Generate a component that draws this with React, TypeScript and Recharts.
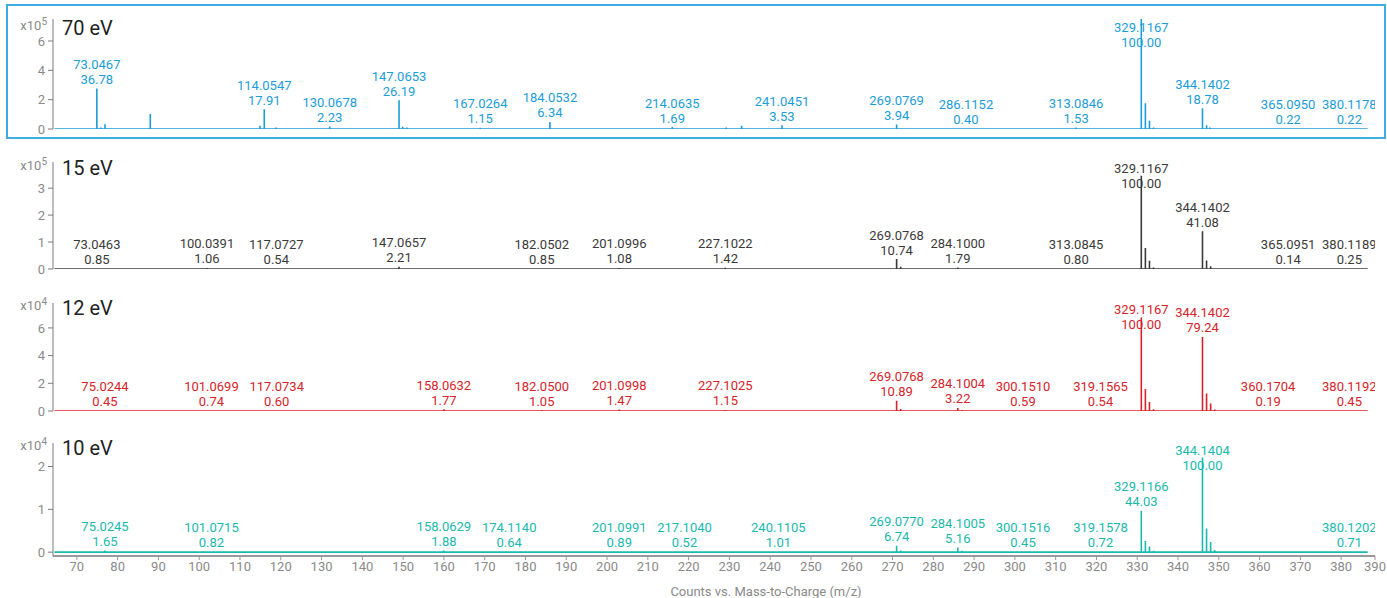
import { ComposedChart, Line, Scatter, XAxis, YAxis } from 'recharts';

// [plotted m/z, height (scaled counts), mass label, relative abundance]
type Peak = [number, number, string, string];
type Stick = [number, number];

const peaks70: Peak[] = [
  [74.9, 2.76, '73.0467', '36.78'],
  [115.95, 1.34, '114.0547', '17.91'],
  [132.0, 0.17, '130.0678', '2.23'],
  [149.0, 1.96, '147.0653', '26.19'],
  [168.9, 0.09, '167.0264', '1.15'],
  [186.0, 0.48, '184.0532', '6.34'],
  [216.0, 0.13, '214.0635', '1.69'],
  [242.9, 0.26, '241.0451', '3.53'],
  [271.0, 0.3, '269.0769', '3.94'],
  [288.0, 0.03, '286.1152', '0.40'],
  [315.0, 0.11, '313.0846', '1.53'],
  [331.0, 7.5, '329.1167', '100.00'],
  [346.0, 1.41, '344.1402', '18.78'],
  [367.0, 0.02, '365.0950', '0.22'],
  [382.0, 0.02, '380.1178', '0.22'],
];
const minor70: Stick[] = [
  [75.9, 0.1], [76.9, 0.32], [88.0, 1.02], [114.9, 0.22], [118.8, 0.1], [146.0, 0.05],
  [149.9, 0.16], [150.9, 0.1], [229.2, 0.1], [233.0, 0.22], [332.0, 1.75], [333.0, 0.57],
  [334.0, 0.1], [347.0, 0.25], [347.8, 0.1],
];

const peaks15: Peak[] = [
  [74.9, 0.03, '73.0463', '0.85'],
  [101.9, 0.04, '100.0391', '1.06'],
  [118.9, 0.02, '117.0727', '0.54'],
  [149.0, 0.08, '147.0657', '2.21'],
  [184.0, 0.03, '182.0502', '0.85'],
  [203.0, 0.04, '201.0996', '1.08'],
  [229.0, 0.05, '227.1022', '1.42'],
  [271.0, 0.37, '269.0768', '10.74'],
  [286.0, 0.06, '284.1000', '1.79'],
  [315.0, 0.03, '313.0845', '0.80'],
  [331.0, 3.46, '329.1167', '100.00'],
  [346.0, 1.4, '344.1402', '41.08'],
  [367.0, 0.01, '365.0951', '0.14'],
  [382.0, 0.01, '380.1189', '0.25'],
];
const minor15: Stick[] = [
  [159.8, 0.03], [272.0, 0.08], [332.0, 0.78], [333.0, 0.31], [334.0, 0.06], [347.0, 0.32], [348.0, 0.1],
];

const peaks12: Peak[] = [
  [76.9, 0.03, '75.0244', '0.45'],
  [103.0, 0.05, '101.0699', '0.74'],
  [119.0, 0.04, '117.0734', '0.60'],
  [160.0, 0.12, '158.0632', '1.77'],
  [184.0, 0.07, '182.0500', '1.05'],
  [203.0, 0.1, '201.0998', '1.47'],
  [229.0, 0.08, '227.1025', '1.15'],
  [271.0, 0.74, '269.0768', '10.89'],
  [286.0, 0.22, '284.1004', '3.22'],
  [302.0, 0.04, '300.1510', '0.59'],
  [321.0, 0.04, '319.1565', '0.54'],
  [331.0, 6.75, '329.1167', '100.00'],
  [346.0, 5.35, '344.1402', '79.24'],
  [362.1, 0.01, '360.1704', '0.19'],
  [382.0, 0.03, '380.1192', '0.45'],
];
const minor12: Stick[] = [
  [272.0, 0.15], [287.0, 0.08], [332.0, 1.58], [333.0, 0.65], [334.0, 0.12], [347.0, 1.27], [348.0, 0.55], [349.0, 0.1],
];

const peaks10: Peak[] = [
  [76.9, 0.04, '75.0245', '1.65'],
  [103.0, 0.02, '101.0715', '0.82'],
  [160.0, 0.04, '158.0629', '1.88'],
  [176.0, 0.01, '174.1140', '0.64'],
  [203.0, 0.02, '201.0991', '0.89'],
  [219.0, 0.01, '217.1040', '0.52'],
  [242.0, 0.02, '240.1105', '1.01'],
  [271.0, 0.15, '269.0770', '6.74'],
  [286.0, 0.11, '284.1005', '5.16'],
  [302.0, 0.01, '300.1516', '0.45'],
  [321.0, 0.02, '319.1578', '0.72'],
  [331.0, 0.97, '329.1166', '44.03'],
  [346.0, 2.21, '344.1404', '100.00'],
  [382.0, 0.02, '380.1202', '0.71'],
];
const minor10: Stick[] = [
  [272.0, 0.04], [287.0, 0.03], [332.0, 0.26], [333.0, 0.13], [334.0, 0.03], [347.0, 0.55], [348.0, 0.24], [349.0, 0.05],
];

const SCAN_START = 64.5;
const SCAN_END = 386.5;
const X_DOMAIN: [number, number] = [64.15, 388.3];
const X_TICKS = [70, 80, 90, 100, 110, 120, 130, 140, 150, 160, 170, 180, 190, 200, 210, 220, 230, 240, 250, 260, 270, 280, 290, 300, 310, 320, 330, 340, 350, 360, 370, 380, 388.3];
const X_TICK_LABELS = ['70', '80', '90', '100', '110', '120', '130', '140', '150', '160', '170', '180', '190', '200', '210', '220', '230', '240', '250', '260', '270', '280', '290', '300', '310', '320', '330', '340', '350', '360', '370', '380', '390'];

const FONT = 'Roboto, "Noto Sans", sans-serif';
const GRAY = '#8a8a8a';

const panels = [
  { title: '70 eV', exp: '5', color: '#1b9dd9', peaks: peaks70, minor: minor70, yTicks: [0, 2, 4, 6], yDomain: [0, 7.5], top: 0, height: 140, mt: 19, mb: 11, labelMin: 27 },
  { title: '15 eV', exp: '5', color: '#3a3a3a', peaks: peaks15, minor: minor15, yTicks: [0, 1, 2, 3], yDomain: [0, 3.97], top: 140, height: 140, mt: 22, mb: 11, labelMin: 28 },
  { title: '12 eV', exp: '4', color: '#d8232a', peaks: peaks12, minor: minor12, yTicks: [0, 2, 4, 6], yDomain: [0, 7.8], top: 280, height: 140, mt: 23, mb: 9, labelMin: 29 },
  { title: '10 eV', exp: '4', color: '#19b9ad', peaks: peaks10, minor: minor10, yTicks: [0, 1, 2], yDomain: [-0.09, 2.55], top: 420, height: 178, mt: 23, mb: 0, labelMin: 30 },
];

function buildSticks(peaks: Peak[], minor: Stick[]) {
  const all: Stick[] = [...peaks.map((p) => [p[0], p[1]] as Stick), ...minor].sort((a, b) => a[0] - b[0]);
  const rows: { x: number; y: number }[] = [{ x: SCAN_START, y: 0 }];
  for (const [x, h] of all) {
    rows.push({ x, y: 0 }, { x, y: h }, { x, y: 0 });
  }
  rows.push({ x: SCAN_END, y: 0 });
  return rows;
}

const peakLabel = (color: string, minY: number) => (props: any) => {
  const { cx, cy, payload } = props;
  if (cx == null || cy == null) return <g />;
  const y1 = Math.max(cy - 24, minY);
  const common = { x: cx, textAnchor: 'middle' as const, dominantBaseline: 'central' as const, fill: color, fontSize: 13, fontFamily: FONT };
  return (
    <g>
      <text {...common} y={y1}>{payload.mz}</text>
      <text {...common} y={y1 + 15}>{payload.pct}</text>
    </g>
  );
};

export default function App() {
  return (
    <div style={{ position: 'absolute', left: 0, top: 0, width: 1387, height: 598, background: '#fff', fontFamily: FONT, overflow: 'hidden' }}>
      <div style={{ position: 'absolute', left: 6, top: 4, width: 1376, height: 131, border: '2px solid #3cace2' }} />
      {panels.map((p, i) => {
        const last = i === panels.length - 1;
        const tops = p.peaks.map(([x, y, mz, pct]) => ({ x, y, mz, pct }));
        return (
          <div key={p.title}>
            <div style={{ position: 'absolute', left: 0, top: p.top }}>
              <ComposedChart width={1387} height={p.height} data={buildSticks(p.peaks, p.minor)} margin={{ top: p.mt, right: 12, bottom: p.mb, left: 8 }}>
                <XAxis
                  type="number"
                  dataKey="x"
                  domain={X_DOMAIN}
                  allowDataOverflow
                  hide={!last}
                  ticks={X_TICKS}
                  interval={0}
                  tickFormatter={(v: number) => X_TICK_LABELS[X_TICKS.indexOf(v)] ?? String(v)}
                  tick={{ fill: GRAY, fontSize: 13, fontFamily: FONT }}
                  tickSize={4}
                  axisLine={{ stroke: '#999', strokeWidth: 2 }}
                  tickLine={{ stroke: '#999' }}
                  height={42}
                  label={last ? {
                    content: () => (
                      <text x={766} y={171} textAnchor="middle" dominantBaseline="central" fill={GRAY} fontSize={13} fontFamily={FONT}>
                        Counts vs. Mass-to-Charge (m/z)
                      </text>
                    ),
                  } : undefined}
                />
                <YAxis
                  type="number"
                  domain={p.yDomain}
                  allowDataOverflow
                  ticks={p.yTicks}
                  width={45}
                  tickSize={5}
                  tickMargin={3}
                  tick={{ fill: GRAY, fontSize: 13, fontFamily: FONT }}
                  axisLine={{ stroke: '#7a7a7a' }}
                  tickLine={{ stroke: '#7a7a7a' }}
                />
                <Line dataKey="y" type="linear" stroke={p.color} strokeWidth={1.6} dot={false} activeDot={false} isAnimationActive={false} />
                <Scatter data={tops} dataKey="y" isAnimationActive={false} shape={peakLabel(p.color, p.labelMin)} />
              </ComposedChart>
            </div>
            <div style={{ position: 'absolute', left: 10, top: p.top + 19, width: 37, height: 14, textAlign: 'right', color: GRAY, fontSize: 13, lineHeight: '14px', whiteSpace: 'nowrap' }}>
              x10<span style={{ fontSize: 10, position: 'relative', top: -5 }}>{p.exp}</span>
            </div>
            <div style={{ position: 'absolute', left: 62, top: p.top + 16, color: '#222', fontSize: 20, lineHeight: '24px' }}>
              {p.title}
            </div>
          </div>
        );
      })}
    </div>
  );
}
